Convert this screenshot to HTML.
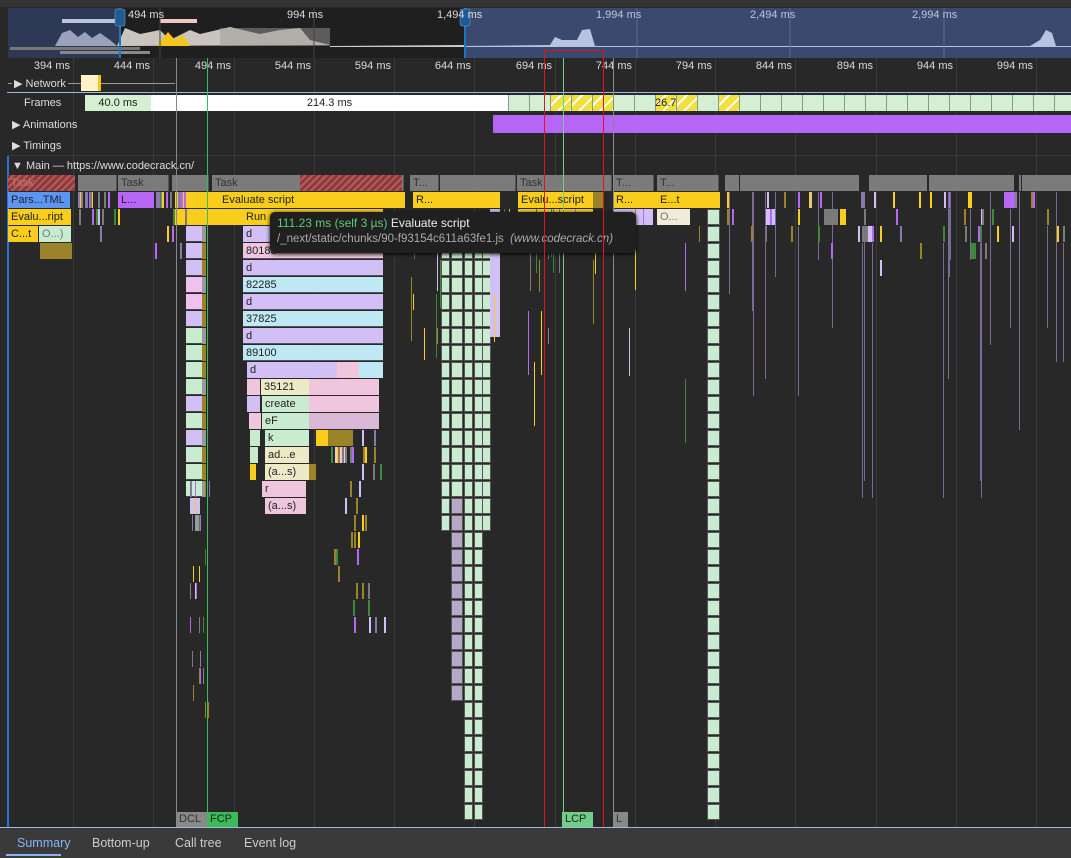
<!DOCTYPE html>
<html><head><meta charset="utf-8">
<style>
*{margin:0;padding:0;box-sizing:border-box}
html,body{width:1071px;height:858px;overflow:hidden;background:#282828;font-family:"Liberation Sans",sans-serif;}
#c{position:relative;width:1071px;height:858px;}
.b{position:absolute;overflow:hidden;white-space:nowrap;font-size:11px;line-height:16px;color:#222;padding-left:3px;}
.t{position:absolute;white-space:nowrap;font-size:11px;color:#ddd;}
</style></head><body><div id="c">
<!-- toolbar -->
<div style="position:absolute;left:0;top:0;width:1071px;height:7px;background:#333;"></div>
<!-- overview -->
<div style="position:absolute;left:8px;top:8px;width:1063px;height:50px;background:#1f1f1f;"></div>
<div style="position:absolute;left:8px;top:8px;width:112px;height:50px;background:#2e3a55;"></div>
<div style="position:absolute;left:465px;top:8px;width:606px;height:50px;background:#394a6e;"></div>
<svg style="position:absolute;left:0;top:0" width="1071" height="60">
<polygon points="8,46 55,46 62,33 70,30 78,37 85,32 92,38 100,33 110,40 117,46" fill="#c8cfe6" opacity=".7"/>
<polygon points="117,46 125,28 140,34 160,30 170,40 180,35 190,30 200,34 230,27 260,34 280,30 300,28 310,40 330,45 117,46" fill="#c9c4bc"/>
<polygon points="157,46 168,32 175,40 183,35 190,46" fill="#f5c518"/>
<polygon points="220,28 330,28 330,46 220,46" fill="#9b9a98" opacity=".5"/>
<polygon points="330,46 465,45 465,47 330,47" fill="#ccc"/>
<polygon points="465,46 550,45 555,37 562,40 577,40 582,30 590,29 595,46 1071,46 1071,47 465,47" fill="#b7c3e0"/>
<polygon points="1030,46 1040,40 1046,30 1052,33 1056,46" fill="#b7c3e0"/>
<rect x="62" y="19" width="57" height="4" fill="#b7c3e0"/>
<rect x="160" y="19" width="37" height="4" fill="#f3c4c4"/>
<rect x="10" y="47" width="130" height="3" fill="#777"/>
<rect x="60" y="51" width="90" height="3" fill="#888"/>
<line x1="160" y1="8" x2="160" y2="58" stroke="#444"/><line x1="314" y1="8" x2="314" y2="58" stroke="#444"/><line x1="637" y1="8" x2="637" y2="58" stroke="#5a6a8a"/><line x1="790" y1="8" x2="790" y2="58" stroke="#5a6a8a"/><line x1="944" y1="8" x2="944" y2="58" stroke="#5a6a8a"/>
<line x1="120" y1="8" x2="120" y2="58" stroke="#1e74c5" stroke-width="2"/><line x1="465" y1="8" x2="465" y2="58" stroke="#1e74c5" stroke-width="2"/>
<rect x="115" y="9" width="10" height="17" rx="2" fill="#1e5a94" stroke="#7ab" stroke-width=".5"/>
<rect x="460" y="9" width="10" height="17" rx="2" fill="#1e5a94" stroke="#7ab" stroke-width=".5"/>
</svg>
<div class="t" style="left:128px;top:9px;">494 ms</div>
<div class="t" style="left:287px;top:9px;">994 ms</div>
<div class="t" style="left:437px;top:9px;">1,494 ms</div>
<div class="t" style="left:596px;top:9px;color:#bcc6de">1,994 ms</div>
<div class="t" style="left:750px;top:9px;color:#bcc6de">2,494 ms</div>
<div class="t" style="left:912px;top:9px;color:#bcc6de">2,994 ms</div>
<div id="gridanchor"></div>
<!-- network -->
<div style="position:absolute;left:8px;top:83px;width:167px;height:1px;background:#999"></div>
<div class="t" style="left:12px;top:77px;font-size:11px;color:#ddd;background:#282828;padding:0 2px">▶ Network</div>
<div style="position:absolute;left:81px;top:75px;width:20px;height:16px;background:#fff3c7;border-right:3px solid #f5c518"></div>
<div style="position:absolute;left:7px;top:92px;width:1064px;height:1px;background:#9fb9e6"></div>
<!-- frames -->
<div class="t" style="left:24px;top:97px;">Frames</div>
<div class="b" style="left:85px;top:95px;width:66px;height:16px;background:#d4efd1;text-align:center;padding:0">40.0 ms</div>
<div class="b" style="left:151px;top:95px;width:357px;height:16px;background:#fff;text-align:center;padding:0">214.3 ms</div>
<div id="frames"></div>
<!-- animations/timings -->
<div class="t" style="left:12px;top:118px;">▶ Animations</div>
<div style="position:absolute;left:493px;top:115px;width:578px;height:18px;background:#b566f7"></div>
<div class="t" style="left:12px;top:139px;">▶ Timings</div>
<div style="position:absolute;left:7px;top:155px;width:1064px;height:1px;background:#3a3a3a"></div>
<div class="t" style="left:12px;top:160px;">▼ Main — https://www.codecrack.cn/</div>
<div style="position:absolute;left:7px;top:156px;width:2px;height:672px;background:#2f6fd0"></div>
<div id="flame"></div>
<!-- marker lines -->
<div id="mk" style="position:absolute;left:176px;top:58px;width:1px;height:755px;background:#888"></div>
<div style="position:absolute;left:207px;top:58px;width:1px;height:755px;background:#3cba58"></div>
<div style="position:absolute;left:563px;top:58px;width:1px;height:755px;background:#6fcf86"></div>
<div style="position:absolute;left:613px;top:58px;width:1px;height:755px;background:#888"></div>
<div class="b" style="left:176px;top:812px;width:31px;height:15px;background:#888;color:#333;line-height:15px">DCL</div>
<div class="b" style="left:207px;top:812px;width:31px;height:15px;background:#3cba58;color:#222;line-height:15px">FCP</div>
<div class="b" style="left:562px;top:812px;width:31px;height:15px;background:#6fcf86;color:#222;line-height:15px">LCP</div>
<div class="b" style="left:613px;top:812px;width:15px;height:15px;background:#888;color:#333;line-height:15px">L</div>
<!-- tooltip -->
<div style="position:absolute;left:270px;top:212px;width:366px;height:41px;background:#202020;border-radius:5px;box-shadow:0 1px 4px #000;"></div>
<div class="t" style="left:277px;top:216px;font-size:12px;"><span style="color:#5ecb72">111.23 ms (self 3 µs)</span> <span style="color:#eee">Evaluate script</span></div>
<div class="t" style="left:277px;top:233px;font-size:11.5px;color:#aaa">/_next/static/chunks/90-f93154c611a63fe1.js&nbsp; <i>(www.codecrack.cn)</i></div>
<!-- red rect -->
<div style="position:absolute;left:544px;top:50px;width:60px;height:787px;border:1.5px solid #e0141e"></div>
<!-- bottom tabs -->
<div style="position:absolute;left:0;top:827px;width:1071px;height:1px;background:#9fb9e6"></div>
<div style="position:absolute;left:0;top:828px;width:1071px;height:30px;background:#3a3a3a"></div>
<div class="t" style="left:17px;top:836px;font-size:12.5px;color:#8ab4f8">Summary</div>
<div style="position:absolute;left:6px;top:854px;width:55px;height:2px;background:#8ab4f8"></div>
<div class="t" style="left:92px;top:836px;font-size:12.5px;color:#ccc">Bottom-up</div>
<div class="t" style="left:175px;top:836px;font-size:12.5px;color:#ccc">Call tree</div>
<div class="t" style="left:244px;top:836px;font-size:12.5px;color:#ccc">Event log</div>
</div>
<script>
var C=document.getElementById('c');var MK=document.getElementById('mk');var GA=document.getElementById('gridanchor');
function b(x,y,w,h,col,txt,extra,anchor){var d=document.createElement('div');d.className='b';d.style.cssText='left:'+x+'px;top:'+y+'px;width:'+w+'px;height:'+h+'px;background:'+col+';'+(extra||'');if(txt)d.textContent=txt;C.insertBefore(d,anchor||MK);return d;}
var labs=['394','444','494','544','594','644','694','744','794','844','894','944','994'];
for(var k=0;k<13;k++){var gx=Math.round(73+80.25*k);b(gx,58,1,770,'#3a3a3a','','padding:0',GA);
 var t=document.createElement('div');t.className='t';t.style.cssText='left:'+(gx-45)+'px;top:60px;width:42px;text-align:right;color:#ddd';t.textContent=labs[k]+' ms';C.insertBefore(t,GA);}
var fx=508;
while(fx<1071){var w=21;var isY=(fx>=530&&fx<593)||(fx>=642&&fx<684)||(fx>=707&&fx<727);
 b(fx,95,w,16,isY?'#f0e040':'#d4efd1',(fx>=642&&fx<663)?'26.7 ms':'','padding:0;box-shadow:inset 1px 0 #8a9a88;overflow:visible;'+(isY?'background-image:repeating-linear-gradient(135deg,transparent 0 7px,#fff 7px 9px);':''));fx+=w;}
var Y=function(n){return 175+17*n;};
var G='#7b7b7b',YE='#f9cd1c',PU='#d2bff5',CY='#bde8f4',PK='#efc6dd',LG='#c9ecd0',OL='#9a8328',BL='#5b96f5',VI='#b866f5',CR='#f1ecd8';
b(8,Y(0),67,16,'#a04848','Task','color:#c77;background-image:repeating-linear-gradient(135deg,#8a3c3c 0 3px,#b85a5a 3px 5px);');
[[78,40],[118,52],[172,38],[212,193],[410,30],[440,77],[517,96],[613,42],[657,63]].forEach(function(a,i){b(a[0],Y(0),a[1]-1,16,G,['','Task','','Task','T...','','Task','T...','T...'][i],'color:#333;border-right:1px solid #555');});
b(300,Y(0),102,16,'#9a4a4a','','background-image:repeating-linear-gradient(135deg,#8a3c3c 0 3px,#b85a5a 3px 5px)');
b(8,Y(1),62,16,BL,'Pars...TML');b(118,Y(1),36,16,VI,'L...');b(175,Y(1),230,16,YE,'');b(219,Y(1),186,16,YE,'Evaluate script');
b(413,Y(1),27,16,YE,'R...');b(440,Y(1),60,16,YE,'');b(518,Y(1),75,16,YE,'Evalu...script');b(593,Y(1),10,16,OL);
b(613,Y(1),30,16,YE,'R...');b(643,Y(1),14,16,YE);b(657,Y(1),33,16,YE,'E...t');b(690,Y(1),30,16,YE);
b(8,Y(2),63,16,YE,'Evalu...ript');b(175,Y(2),208,16,YE);b(243,Y(2),140,16,YE,'Run');b(518,Y(2),75,16,YE);b(657,Y(2),33,16,CR,'O...','color:#777');b(613,Y(2),40,16,PU);
b(8,Y(3),30,16,YE,'C...t');b(39,Y(3),32,16,LG,'O...)','color:#777');b(243,Y(3),140,16,PU,'d');
b(40,Y(4),32,16,OL);
var stack=[[PK,'80183'],[PU,'d'],[CY,'82285'],[PU,'d'],[CY,'37825'],[PU,'d'],[CY,'89100']];
stack.forEach(function(s,i){b(243,Y(4+i),140,16,s[0],s[1],'border-bottom:1px solid #555');});
b(247,Y(11),90,16,PU,'d');b(337,Y(11),22,16,PK);b(359,Y(11),24,16,CY);
b(247,Y(12),13,16,PK);b(261,Y(12),48,16,'#eceac7','35121');b(309,Y(12),70,16,PK);
b(247,Y(13),13,16,PU);b(262,Y(13),47,16,LG,'create');b(309,Y(13),70,16,PK);
b(249,Y(14),12,16,PK);b(262,Y(14),47,16,LG,'eF');b(309,Y(14),70,16,'#d9b8d8');
b(250,Y(15),10,16,LG);b(265,Y(15),44,16,LG,'k');b(316,Y(15),12,16,YE);b(328,Y(15),25,16,OL);
b(250,Y(16),8,16,LG);b(265,Y(16),44,16,'#eceac7','ad...e');b(335,Y(16),10,16,PK);
b(250,Y(17),6,16,YE);b(265,Y(17),44,16,'#eceac7','(a...s)');b(309,Y(17),7,16,OL);
b(262,Y(18),44,16,PK,'r');b(265,Y(19),41,16,PK,'(a...s)');
for(var i=3;i<19;i++){var cc=[PU,PU,PU,'#efc0f0','#efc0f0',PU,LG,LG,LG,LG,PU,LG,PU,LG,LG,LG][i-3];b(186,Y(i),16,16,cc,'','padding:0;border-bottom:1px solid #444');b(202,Y(i),4,16,i%3?OL:'#999','','padding:0');}
b(190,Y(19),10,16,PU,'','padding:0');b(195,Y(20),6,16,'#999','','padding:0');
for(var i=3;i<38;i++){var xs=[441,451,464,474,482];xs.forEach(function(x,j){if(i>20&&(j==0||j==4))return; if(i>30&&j==1)return;b(x,Y(i),j==1?12:9,16,(j==1&&i>18)?'#b8a8c8':LG,'','padding:0;border:1px solid #555');});}
b(490,Y(2),10,16*8,PU,'','padding:0');
for(var i=2;i<38;i++){b(707,Y(i),13,16,LG,'','padding:0;border:1px solid #555');}
b(700,Y(1),20,16,YE,'','padding:0');
var s=7;function r(){s=(s*9301+49297)%233280;return s/233280;}
var cols=[YE,VI,OL,PU,'#3a8a3a','#8a7aa8',G];
for(var n=0;n<120;n++){var x=Math.floor(725+r()*340);var row=Math.floor(r()*r()*6);var w=r()<0.3?Math.floor(4+r()*14):2;var col=row==0?G:cols[Math.floor(r()*cols.length)];b(x,Y(row),w,16,col,'','padding:0');
 if(r()<0.2){var len=Math.floor(3+r()*15);b(x,Y(row+1),1,17*len,'#7a6a98','','padding:0');}}
for(var n=0;n<50;n++){var x=Math.floor(725+r()*340);b(x,Y(0),Math.floor(3+r()*20),16,G,'','padding:0');}
for(var n=0;n<60;n++){var x=Math.floor(78+r()*110);if(x>118&&x<155)continue;var row=1+Math.floor(r()*r()*4);b(x,Y(row),2,16,cols[Math.floor(r()*cols.length)],'','padding:0');}
for(var n=0;n<60;n++){var x=Math.floor(405+r()*300);if(x>440&&x<492)continue;if(x>600&&x<700&&r()<.5)continue;var row=2+Math.floor(r()*r()*14);b(x,Y(row),1,16*(1+Math.floor(r()*4)),cols[Math.floor(r()*cols.length)],'','padding:0');}
for(var n=0;n<40;n++){var x=Math.floor(330+r()*55);var row=15+Math.floor(r()*12);b(x,Y(row),2,16,cols[Math.floor(r()*cols.length)],'','padding:0');}
for(var n=0;n<30;n++){var x=Math.floor(190+r()*20);var row=18+Math.floor(r()*14);b(x,Y(row),1,16,cols[Math.floor(r()*cols.length)],'','padding:0');}
</script>
</body></html>
